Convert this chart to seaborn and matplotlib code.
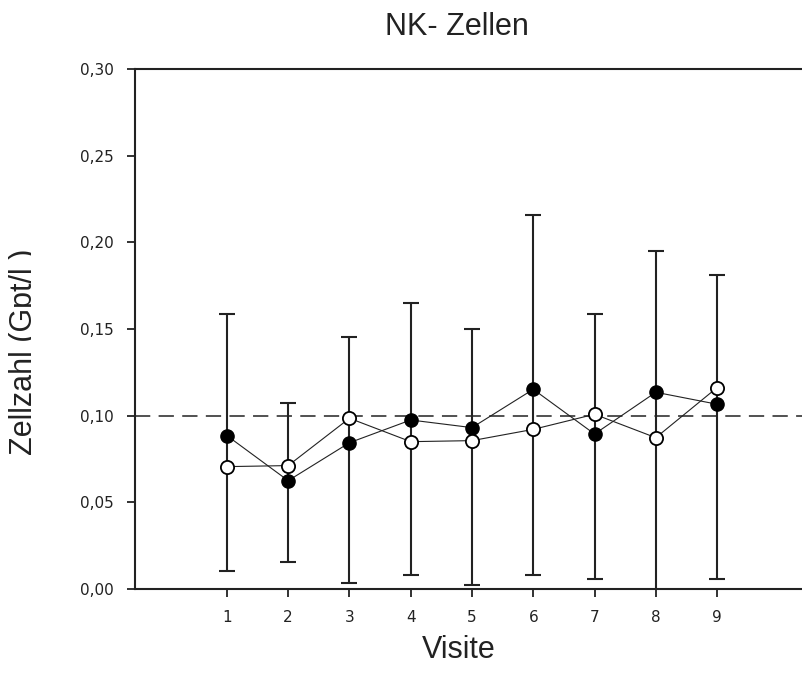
import numpy as np
import pandas as pd
import matplotlib
matplotlib.use("Agg")
import matplotlib.pyplot as plt
from matplotlib.patches import Rectangle
import seaborn as sns

# Visits and group means (Gpt/l)
visits = [1, 2, 3, 4, 5, 6, 7, 8, 9]
filled_means = [0.0885, 0.0625, 0.0844, 0.0975, 0.0931, 0.1152, 0.0894, 0.1135, 0.1066]
open_means = [0.0706, 0.0712, 0.0985, 0.0850, 0.0856, 0.0921, 0.1008, 0.0873, 0.1162]

# Error bar ranges per visit
err_low = [0.0104, 0.0158, 0.0037, 0.0081, 0.0023, 0.0081, 0.0058, -0.0200, 0.0058]
err_high = [0.1587, 0.1071, 0.1452, 0.1652, 0.1498, 0.2158, 0.1587, 0.1952, 0.1812]

reference_level = 0.10
y_ticks = [0.00, 0.05, 0.10, 0.15, 0.20, 0.25, 0.30]

title = "NK- Zellen"
x_label = "Visite"
y_label = "Zellzahl (Gpt/l )"

sns.set_theme(style="white")
plt.rcParams["font.family"] = ["Liberation Sans", "DejaVu Sans"]
plt.rcParams["lines.scale_dashes"] = False

ink = "#222222"
W, H = 803, 687
fig = plt.figure(figsize=(W / 100, H / 100), dpi=100, facecolor="white")
ax = fig.add_axes([135 / W, (H - 589) / H, (809 - 135) / W, (589 - 69) / H])
ax.set_facecolor("white")

df = pd.DataFrame({"Visite": visits, "gefuellt": filled_means, "offen": open_means})

# error bars centred on the filled series
center = np.array(filled_means)
yerr = [center - np.array(err_low), np.array(err_high) - center]
ax.errorbar(visits, center, yerr=yerr, fmt="none", ecolor=ink, elinewidth=1.5,
            capsize=5.8, capthick=1.5, zorder=2)

ax.axhline(reference_level, color="#333333", lw=1.2, dashes=(11, 6), zorder=1)

sns.lineplot(data=df, x="Visite", y="gefuellt", ax=ax, color=ink, lw=0.8,
             marker="o", markersize=9.5, markerfacecolor="black",
             markeredgecolor="black", markeredgewidth=1.0, zorder=4)
sns.lineplot(data=df, x="Visite", y="offen", ax=ax, color=ink, lw=0.8,
             marker="o", markersize=9.5, markerfacecolor="white",
             markeredgecolor="black", markeredgewidth=1.3, zorder=5)

ax.set_xlim(-0.5, 10.5)
ax.set_ylim(0, 0.30)
ax.set_xticks(visits)
ax.set_xticklabels([str(v) for v in visits])
ax.set_yticks(y_ticks)
ax.set_yticklabels([f"{t:.2f}".replace(".", ",") for t in y_ticks])
ax.tick_params(axis="both", which="major", direction="out", length=6, width=1.3,
               color=ink, labelcolor=ink, labelsize=11, bottom=True, left=True)
ax.tick_params(axis="x", pad=9)
ax.tick_params(axis="y", pad=9)
for lab in ax.get_xticklabels() + ax.get_yticklabels():
    lab.set_family(["DejaVu Sans"])
ax.set_xlabel("")
ax.set_ylabel("")
for side in ["left", "bottom", "top"]:
    ax.spines[side].set_visible(True)
    ax.spines[side].set_color(ink)
    ax.spines[side].set_linewidth(1.5)
ax.spines["right"].set_visible(False)

fig.text(457 / W, 1 - 27 / H, title, ha="center", va="center", fontsize=22, color=ink)
fig.text(459 / W, 1 - 650 / H, x_label, ha="center", va="center", fontsize=22, color=ink)

# y label partly hidden behind the chart panel
fig.text(24 / W, 1 - 352 / H, y_label, rotation=90, ha="center", va="center",
         fontsize=22, color=ink, zorder=-2)
fig.patches.append(Rectangle((31 / W, 0), 1, 1, transform=fig.transFigure,
                             facecolor="white", edgecolor="none", zorder=-1))

fig.savefig("out.png", dpi=100, facecolor="white")
